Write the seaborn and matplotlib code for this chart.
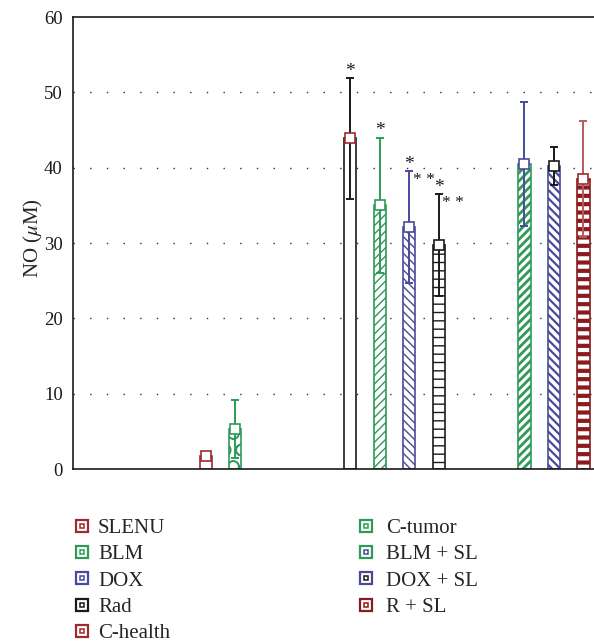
import numpy as np
import pandas as pd
import matplotlib
matplotlib.use("Agg")
import matplotlib.pyplot as plt
import seaborn as sns
from matplotlib.lines import Line2D
from matplotlib.legend_handler import HandlerTuple

# ---------------- data ----------------
bar_labels = ["C-health", "C-tumor", "SLENU", "BLM", "DOX", "Rad",
              "BLM + SL", "DOX + SL", "R + SL"]
no_mean = [1.7, 5.3, 43.9, 35.0, 32.1, 29.7, 40.5, 40.2, 38.5]
no_err = [0.2, 3.9, 8.0, 9.0, 7.4, 6.8, 8.2, 2.5, 7.7]
star_above = ["", "", "*", "*", "*", "*", "", "", ""]
star_side = ["", "", "", "", "* *", "* *", "", "", ""]
group_members = [["C-health", "C-tumor"],
                 ["SLENU", "BLM", "DOX", "Rad"],
                 ["BLM + SL", "DOX + SL", "R + SL"]]
legend_left = ["SLENU", "BLM", "DOX", "Rad", "C-health"]
legend_right = ["C-tumor", "BLM + SL", "DOX + SL", "R + SL"]
y_ticks = [0, 10, 20, 30, 40, 50, 60]
y_label = r"NO ($\mu$M)"

# ---------------- styles ----------------
RED = "#9c2a2e"
DRED = "#8a1a1e"
LRED = "#b55a5e"
GREEN = "#2f9a58"
BLUE = "#4a4a9c"
BLACK = "#1a1a1a"

bar_edge = {"C-health": RED, "C-tumor": GREEN, "SLENU": BLACK, "BLM": GREEN,
            "DOX": BLUE, "Rad": BLACK, "BLM + SL": GREEN, "DOX + SL": BLUE,
            "R + SL": DRED}
bar_hatch = {"C-health": "", "C-tumor": "O", "SLENU": "", "BLM": "////",
             "DOX": "\\\\\\\\", "Rad": "--", "BLM + SL": "////",
             "DOX + SL": "\\\\\\\\", "R + SL": "--"}
hatch_lw = {"BLM + SL": 2.0, "DOX + SL": 1.6, "R + SL": 3.0}
err_color = {"C-health": RED, "C-tumor": GREEN, "SLENU": BLACK, "BLM": GREEN,
             "DOX": BLUE, "Rad": BLACK, "BLM + SL": BLUE, "DOX + SL": BLACK,
             "R + SL": LRED}
mark_color = {"C-health": RED, "C-tumor": GREEN, "SLENU": RED, "BLM": GREEN,
              "DOX": BLUE, "Rad": BLACK, "BLM + SL": BLUE, "DOX + SL": BLACK,
              "R + SL": RED}
legend_outer = {"SLENU": RED, "BLM": GREEN, "DOX": BLUE, "Rad": BLACK,
                "C-health": RED, "C-tumor": GREEN, "BLM + SL": GREEN,
                "DOX + SL": BLUE, "R + SL": DRED}
legend_inner = {"SLENU": RED, "BLM": GREEN, "DOX": BLUE, "Rad": BLACK,
                "C-health": RED, "C-tumor": GREEN, "BLM + SL": BLUE,
                "DOX + SL": BLACK, "R + SL": DRED}

sns.set_theme(style="white")
plt.rcParams["font.family"] = ["Liberation Serif", "DejaVu Serif"]
plt.rcParams["mathtext.fontset"] = "stix"
plt.rcParams["hatch.linewidth"] = 1.0

# layout: slot positions of the three groups on the x axis
group_start = [4.5, 9.4, 15.3]
pos = {}
for g, members in enumerate(group_members):
    for i, m in enumerate(members):
        pos[m] = group_start[g] + i

df = pd.DataFrame({"label": bar_labels,
                   "x": [pos[l] for l in bar_labels],
                   "NO": no_mean, "err": no_err})

W, H = 594, 643
fig = plt.figure(figsize=(W / 100, H / 100), dpi=100)
ax_left, ax_right, ax_top, ax_bot = 73, 680, 17, 469
ax_w = ax_right - ax_left
ax = fig.add_axes([ax_left / W, (H - ax_bot) / H, ax_w / W, (ax_bot - ax_top) / H])

sns.barplot(data=df, x="x", y="NO", native_scale=True, width=0.42,
            color="white", errorbar=None, ax=ax, zorder=2)

patches = sorted(ax.patches, key=lambda p: p.get_x())
order = sorted(bar_labels, key=lambda l: pos[l])
for p, lab in zip(patches, order):
    p.set_facecolor("white")
    p.set_edgecolor(bar_edge[lab])
    p.set_linewidth(1.2)
    p.set_hatch(bar_hatch[lab])
    if lab in hatch_lw and hasattr(p, "set_hatch_linewidth"):
        p.set_hatch_linewidth(hatch_lw[lab])

for _, r in df.iterrows():
    lab = r["label"]
    ax.errorbar(r["x"], r["NO"], yerr=r["err"], fmt="none",
                ecolor=err_color[lab], elinewidth=1.4, capsize=3.2,
                capthick=1.4, zorder=3)
    ax.plot(r["x"], r["NO"], marker="s", ms=7, mfc="white",
            mec=mark_color[lab], mew=1.2, zorder=4, ls="none")

for _, r in df.iterrows():
    i = bar_labels.index(r["label"])
    top = r["NO"] + r["err"]
    if star_above[i]:
        ax.annotate(star_above[i], xy=(r["x"], top), xytext=(0, 1.5),
                    textcoords="offset points", ha="center", va="baseline",
                    fontsize=14, color=BLACK, zorder=5)
    if star_side[i]:
        ax.annotate(star_side[i], xy=(r["x"], top), xytext=(2.5, -9.0),
                    textcoords="offset points", ha="left", va="baseline",
                    fontsize=12.5, color=BLACK, zorder=5)

slot_px = 29.5
ax.set_xlim(0, ax_w / slot_px)
ax.set_ylim(0, 60)
ax.set_yticks(y_ticks)
ax.set_yticklabels([str(t) for t in y_ticks])
ax.set_xticks([])
ax.set_xlabel("")
ax.set_ylabel(y_label, fontsize=15)
ax.yaxis.set_label_coords(-28 / ax_w, 0.512)
ax.tick_params(axis="y", length=0, pad=7.4, labelsize=13.5, colors=BLACK)
for yv in y_ticks[1:-1]:
    ax.axhline(yv, color="#333333", lw=1.0, ls=(0, (1, 11)), zorder=1)
for s in ["left", "top", "bottom"]:
    ax.spines[s].set_color(BLACK)
    ax.spines[s].set_linewidth(1.2)
ax.spines["right"].set_visible(False)


def make_handle(lab):
    outer = Line2D([], [], marker="s", ms=8, mfc="white",
                   mec=legend_outer[lab], mew=1.6, ls="none")
    inner = Line2D([], [], marker="s", ms=3.5, mfc="white",
                   mec=legend_inner[lab], mew=1.1, ls="none")
    return (outer, inner)


fs = 15
common = dict(frameon=False, fontsize=fs, handlelength=0.6, borderpad=0,
              borderaxespad=0, labelspacing=0.32, loc="upper left",
              bbox_transform=fig.transFigure,
              handler_map={tuple: HandlerTuple(ndivide=1)})
leg1 = fig.legend([make_handle(l) for l in legend_left], legend_left,
                  bbox_to_anchor=(75.8 / W, (H - 518.5) / H),
                  handletextpad=0.47, **common)
leg2 = fig.legend([make_handle(l) for l in legend_right], legend_right,
                  bbox_to_anchor=(359.3 / W, (H - 518.5) / H),
                  handletextpad=0.68, **common)

fig.savefig("out.png", dpi=100)
